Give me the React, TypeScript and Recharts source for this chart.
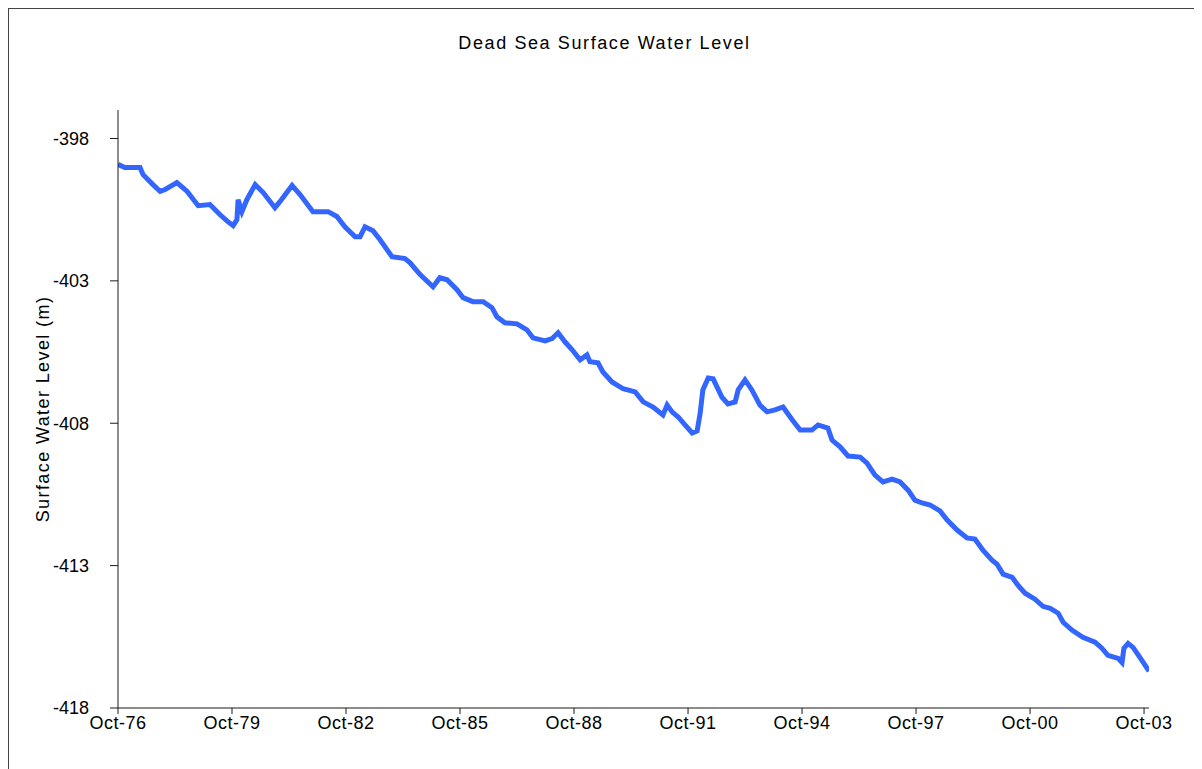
import { LineChart, Line, XAxis, YAxis } from "recharts";

// decimal years (Oct-76 = 1976.75) and surface level in metres
const years = [
  1976.75, 1976.93, 1977.33, 1977.41, 1977.67, 1977.86, 1977.99, 1978.3, 1978.57, 1978.86,
  1979.17, 1979.43, 1979.64, 1979.78, 1979.88, 1979.91, 1980.01, 1980.14, 1980.36, 1980.57,
  1980.88, 1981.01, 1981.33, 1981.54, 1981.88, 1982.28, 1982.51, 1982.72, 1982.99, 1983.12,
  1983.25, 1983.46, 1983.64, 1983.96, 1984.3, 1984.43, 1984.7, 1985.04, 1985.22, 1985.41,
  1985.67, 1985.83, 1986.09, 1986.36, 1986.59, 1986.72, 1986.93, 1987.25, 1987.51, 1987.67,
  1987.99, 1988.17, 1988.33, 1988.51, 1988.7, 1988.91, 1989.09, 1989.17, 1989.38, 1989.51,
  1989.75, 1990.04, 1990.36, 1990.57, 1990.83, 1991.09, 1991.2, 1991.33, 1991.49, 1991.67,
  1991.86, 1991.99, 1992.07, 1992.14, 1992.28, 1992.41, 1992.64, 1992.8, 1992.99, 1993.07,
  1993.25, 1993.43, 1993.64, 1993.83, 1994.04, 1994.25, 1994.49, 1994.7, 1995.01, 1995.17,
  1995.43, 1995.54, 1995.75, 1995.96, 1996.28, 1996.46, 1996.67, 1996.88, 1997.12, 1997.33,
  1997.54, 1997.72, 1997.91, 1998.12, 1998.38, 1998.57, 1998.83, 1999.09, 1999.3, 1999.51,
  1999.75, 1999.88, 2000.04, 2000.28, 2000.43, 2000.62, 2000.88, 2001.09, 2001.28, 2001.49,
  2001.62, 2001.86, 2002.14, 2002.46, 2002.64, 2002.8, 2003.07, 2003.17, 2003.22, 2003.33,
  2003.46, 2003.64, 2003.78, 2003.88,
];

const levels = [
  -398.91, -399.02, -399.02, -399.27, -399.62, -399.86, -399.79, -399.55, -399.86, -400.36,
  -400.32, -400.67, -400.92, -401.06, -400.85, -400.15, -400.57, -400.15, -399.62, -399.9,
  -400.43, -400.22, -399.65, -399.97, -400.57, -400.57, -400.74, -401.1, -401.45, -401.45,
  -401.1, -401.24, -401.55, -402.15, -402.22, -402.36, -402.78, -403.21, -402.89, -402.96,
  -403.31, -403.59, -403.73, -403.73, -403.94, -404.26, -404.47, -404.51, -404.72, -405.0,
  -405.11, -405.03, -404.82, -405.14, -405.42, -405.77, -405.6, -405.84, -405.88, -406.2,
  -406.55, -406.79, -406.9, -407.25, -407.43, -407.71, -407.36, -407.6, -407.78, -408.06,
  -408.34, -408.27, -407.64, -406.83, -406.41, -406.44, -407.08, -407.32, -407.25, -406.83,
  -406.48, -406.83, -407.36, -407.6, -407.53, -407.43, -407.88, -408.24, -408.24, -408.06,
  -408.17, -408.59, -408.83, -409.15, -409.19, -409.4, -409.82, -410.06, -409.96, -410.06,
  -410.35, -410.7, -410.8, -410.87, -411.08, -411.4, -411.75, -412.03, -412.07, -412.46,
  -412.81, -412.95, -413.3, -413.41, -413.69, -413.97, -414.18, -414.43, -414.5, -414.67,
  -414.99, -415.27, -415.52, -415.69, -415.9, -416.15, -416.26, -416.4, -415.9, -415.73,
  -415.87, -416.22, -416.5, -416.71,
];

const xTicks = [1976.75, 1979.75, 1982.75, 1985.75, 1988.75, 1991.75, 1994.75, 1997.75, 2000.75, 2003.75];
const xTickLabels = ["Oct-76", "Oct-79", "Oct-82", "Oct-85", "Oct-88", "Oct-91", "Oct-94", "Oct-97", "Oct-00", "Oct-03"];
const yTicks = [-398, -403, -408, -413, -418];

const data = years.map((t, i) => ({ t, level: levels[i] }));

const font = '"Liberation Sans", Arial, sans-serif';
const axisColor = "#1a1a1a";

export default function App() {
  return (
    <div
      style={{
        position: "relative",
        width: 1193,
        height: 790,
        border: "1px solid #444",
        boxSizing: "border-box",
        background: "#fff",
        fontFamily: font,
      }}
    >
      <div
        style={{
          position: "absolute",
          top: 24,
          left: 0,
          width: "100%",
          textAlign: "center",
          fontSize: 18,
          lineHeight: "20px",
          letterSpacing: 1.6,
          color: "#000",
        }}
      >
        Dead Sea Surface Water Level
      </div>
      <LineChart width={1191} height={768} data={data} margin={{ top: 101, right: 51, bottom: 29, left: 0 }}>
        <XAxis
          dataKey="t"
          type="number"
          domain={[1976.75, 2003.88]}
          ticks={xTicks}
          allowDataOverflow
          tickSize={6}
          tickMargin={2}
          height={40}
          stroke={axisColor}
          tick={{ fill: "#000", fontSize: 18, fontFamily: font, letterSpacing: 0.5 }}
          tickFormatter={(v: number) => xTickLabels[xTicks.indexOf(v)] ?? ""}
        />
        <YAxis
          type="number"
          domain={[-418, -397]}
          ticks={yTicks}
          width={109}
          tickSize={8}
          tickMargin={21}
          stroke={axisColor}
          tick={{ fill: "#000", fontSize: 18, fontFamily: font }}
          label={{
            content: (props: any) => {
              const vb = props.viewBox || {};
              const cx = 34;
              const cy = (vb.y ?? 0) + (vb.height ?? 0) / 2;
              return (
                <text
                  x={cx}
                  y={cy}
                  transform={`rotate(-90, ${cx}, ${cy})`}
                  textAnchor="middle"
                  dominantBaseline="central"
                  fontSize={18}
                  fontFamily={font}
                  letterSpacing={1.4}
                  fill="#000"
                >
                  Surface Water Level (m)
                </text>
              );
            },
          }}
        />
        <Line
          type="linear"
          dataKey="level"
          stroke="#3366ff"
          strokeWidth={5}
          dot={false}
          isAnimationActive={false}
        />
      </LineChart>
    </div>
  );
}
